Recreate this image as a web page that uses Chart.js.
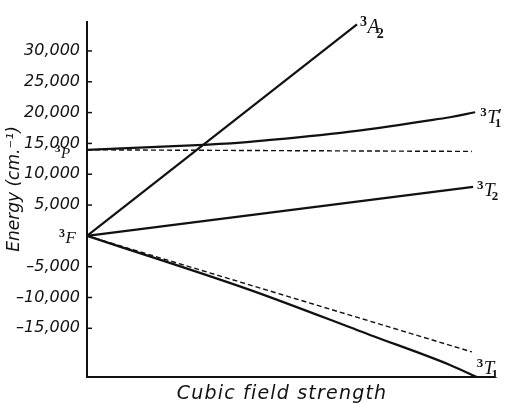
<!DOCTYPE html>
<html>
<head>
<meta charset="utf-8">
<script src="https://cdn.jsdelivr.net/npm/chart.js@4/dist/chart.umd.min.js"></script>
<style>
  html, body { margin: 0; padding: 0; background: #fff; }
  canvas { display: block; }
</style>
</head>
<body>
<canvas id="tanabe" width="512" height="403"></canvas>
<script>
// energy levels of a d2 ion vs cubic field strength (arbitrary x units)
const a2X = [0, 6.65];
const a2Y = [0, 34300];
const t1pX = [0, 2.86, 4.01, 6.48, 8.94, 9.56];
const t1pY = [13960, 14770, 15250, 16900, 19250, 20050];
const p3X = [0, 9.48];
const p3Y = [13960, 13700];
const t2X = [0, 9.51];
const t2Y = [0, 7950];
const t1X = [0, 4.01, 6.97, 8.94, 9.6];
const t1Y = [0, -8760, -16070, -20940, -22900];
const t1wX = [0, 9.48];
const t1wY = [0, -18830];

const yTicks = [-15000, -10000, -5000, 5000, 10000, 15000, 20000, 25000, 30000];

const pts = (xs, ys) => xs.map((x, i) => ({ x, y: ys[i] }));

function term(ctx, x, base, letter, sub, prime, size) {
  const small = Math.round(size * 0.7);
  ctx.textAlign = 'left';
  ctx.textBaseline = 'alphabetic';
  ctx.font = `bold ${small}px "Liberation Serif"`;
  ctx.fillText('3', x, base - size * 0.36);
  x += ctx.measureText('3').width + 0.5;
  ctx.font = `italic ${size}px "Liberation Serif"`;
  ctx.fillText(letter, x, base);
  x += ctx.measureText(letter).width;
  if (prime) {
    ctx.font = `italic ${size}px "Liberation Serif"`;
    ctx.fillText('\u2032', x - size * 0.05, base - size * 0.05);
  }
  if (sub) {
    ctx.font = `bold ${small}px "Liberation Serif"`;
    ctx.fillText(sub, x - size * 0.15, base + size * 0.22);
  }
}

const overlay = {
  id: 'overlay',
  afterDraw(chart) {
    const { ctx, chartArea, scales: { x, y } } = chart;
    ctx.save();
    ctx.strokeStyle = '#111';
    ctx.fillStyle = '#111';
    ctx.lineWidth = 1.5;
    y.ticks.forEach((t) => {
      const py = y.getPixelForValue(t.value);
      ctx.beginPath();
      ctx.moveTo(chartArea.left, py);
      ctx.lineTo(chartArea.left + 5, py);
      ctx.stroke();
    });

    const end = (xs, ys) => [x.getPixelForValue(xs[xs.length - 1]), y.getPixelForValue(ys[ys.length - 1])];
    let p = end(a2X, a2Y);
    term(ctx, p[0] + 3, p[1] + 9, 'A', '2', false, 20);
    p = end(t1pX, t1pY);
    term(ctx, p[0] + 5, p[1] + 11, 'T', '1', true, 19);
    p = end(t2X, t2Y);
    term(ctx, p[0] + 4, p[1] + 9, 'T', '2', false, 19);
    p = end(t1X, t1Y);
    term(ctx, p[0], p[1] - 3, 'T', '1', false, 19);
    term(ctx, chartArea.left - 28, y.getPixelForValue(0) + 7, 'F', '', false, 17);
    term(ctx, chartArea.left - 32, y.getPixelForValue(p3Y[0]) + 8, 'P', '', false, 15);

    // axis titles
    ctx.font = 'italic 17px "DejaVu Sans"';
    ctx.textAlign = 'center';
    ctx.textBaseline = 'middle';
    ctx.save();
    ctx.translate(15, 189);
    ctx.rotate(-Math.PI / 2);
    ctx.fillText('Energy (cm.\u207B\u00B9)', 0, 0);
    ctx.restore();
    ctx.font = 'italic 19px "DejaVu Sans"';
    ctx.letterSpacing = '1.2px';
    ctx.textBaseline = 'alphabetic';
    ctx.fillText('Cubic field strength', 282, 399);
    ctx.restore();
  }
};

const solid = { borderColor: '#111', borderWidth: 2.2, pointRadius: 0, fill: false, clip: false };
const dashed = { borderColor: '#111', borderWidth: 1.4, borderDash: [5, 3], pointRadius: 0, fill: false, clip: false };

new Chart(document.getElementById('tanabe'), {
  type: 'line',
  data: {
    datasets: [
      { label: '3A2', data: pts(a2X, a2Y), ...solid },
      { label: "3T1'", data: pts(t1pX, t1pY), tension: 0.4, ...solid },
      { label: '3P', data: pts(p3X, p3Y), ...dashed },
      { label: '3T2', data: pts(t2X, t2Y), ...solid },
      { label: '3T1', data: pts(t1X, t1Y), cubicInterpolationMode: 'monotone', ...solid },
      { label: '3T1 weak', data: pts(t1wX, t1wY), ...dashed },
    ],
  },
  options: {
    responsive: false,
    animation: false,
    layout: { padding: { top: 22, right: 19, bottom: 26, left: 0 } },
    plugins: { legend: { display: false }, tooltip: { enabled: false } },
    scales: {
      x: {
        type: 'linear',
        min: 0,
        max: 10,
        grid: { display: false, drawTicks: false },
        border: { display: true, color: '#111', width: 2 },
        ticks: { display: false },
        afterFit: (s) => { s.height = 0; },
      },
      y: {
        type: 'linear',
        min: -22900,
        max: 34700,
        grid: { display: false, drawTicks: false },
        border: { display: true, color: '#111', width: 2 },
        afterBuildTicks: (s) => { s.ticks = yTicks.map((v) => ({ value: v })); },
        afterFit: (s) => { s.width = 87; },
        ticks: {
          autoSkip: false,
          padding: 7,
          color: '#111',
          font: { family: '"DejaVu Sans"', style: 'italic', size: 16 },
          callback: (v) => (v < 0 ? '\u2013' + Math.abs(v).toLocaleString('en-US') : v.toLocaleString('en-US')),
        },
      },
    },
  },
  plugins: [overlay],
});
</script>
</body>
</html>
